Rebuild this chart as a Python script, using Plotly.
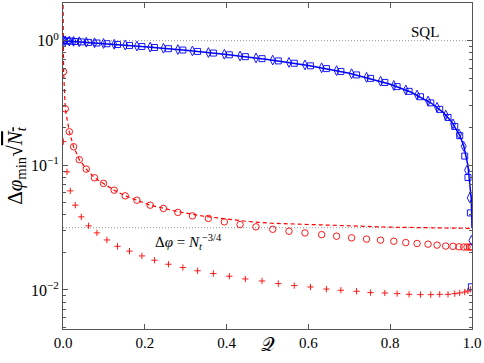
import plotly.graph_objects as go

# ---------------- data ----------------
SQL = 1.0
HEISENBERG = 0.0316

# theory curve (blue solid)
q_line = [0.0, 0.05, 0.1, 0.2, 0.3, 0.4, 0.5, 0.6, 0.7, 0.8, 0.85, 0.9, 0.93, 0.95,
          0.97, 0.98, 0.99, 0.995, 0.998, 0.999, 0.9995, 1.0]
v_line = [1.0, 0.975, 0.949, 0.894, 0.837, 0.775, 0.707, 0.632, 0.548, 0.447, 0.387,
          0.316, 0.265, 0.224, 0.174, 0.142, 0.100, 0.0707, 0.0548, 0.0447, 0.0387, 0.0316]

# red dashed curve
q_dash = [0.0001, 0.0005, 0.0015, 0.0056, 0.0154, 0.0259, 0.040, 0.057, 0.077, 0.099,
          0.125, 0.152, 0.181, 0.213, 0.246, 0.28, 0.35, 0.45, 0.51, 0.67, 0.8, 1.0]
v_dash = [2.2, 1.0, 0.564, 0.284, 0.186, 0.141, 0.111, 0.0932, 0.0794, 0.0716,
          0.0632, 0.0569, 0.0525, 0.0479, 0.0452, 0.0425, 0.0388, 0.0355, 0.0343,
          0.0330, 0.0319, 0.0312]

# grid A: red circles and blue diamonds
q_a = [0.0015, 0.0056, 0.0154, 0.0259, 0.0398, 0.0569, 0.0771, 0.0991, 0.1252, 0.1521,
       0.1807, 0.2131, 0.2456, 0.2808, 0.3164, 0.3555, 0.3945, 0.4329, 0.4719, 0.5127,
       0.5525, 0.5916, 0.6323, 0.6689, 0.7056, 0.7422, 0.7764, 0.8088, 0.8381, 0.8657,
       0.8926, 0.9146, 0.9358, 0.9536, 0.9683, 0.9797, 0.9878, 0.9944, 0.9985]
v_circles = [0.564, 0.284, 0.186, 0.141, 0.111, 0.0932, 0.0794, 0.0716, 0.0632, 0.0569,
             0.0525, 0.0479, 0.0451, 0.0419, 0.0393, 0.0375, 0.0352, 0.0335, 0.0321, 0.0307,
             0.0296, 0.0287, 0.0278, 0.0270, 0.0262, 0.0256, 0.0251, 0.0246, 0.0240, 0.0236,
             0.0233, 0.0229, 0.0225, 0.0224, 0.0222, 0.0221, 0.0221, 0.0221, 0.0221]
v_diamonds = [0.999, 0.997, 0.992, 0.987, 0.980, 0.971, 0.961, 0.949, 0.935, 0.921,
              0.905, 0.887, 0.869, 0.848, 0.827, 0.803, 0.778, 0.753, 0.727, 0.698,
              0.669, 0.639, 0.606, 0.575, 0.543, 0.508, 0.473, 0.437, 0.402, 0.366,
              0.328, 0.292, 0.253, 0.215, 0.178, 0.142, 0.0915, 0.0548, 0.025]

# grid B: red pluses and blue squares
q_b = [0.0008, 0.0098, 0.0178, 0.0300, 0.0447, 0.0625, 0.0830, 0.1074, 0.1333, 0.1626,
       0.1929, 0.2236, 0.2578, 0.2930, 0.3291, 0.3677, 0.4067, 0.4458, 0.4866, 0.5264,
       0.5654, 0.6050, 0.6440, 0.6794, 0.7178, 0.7520, 0.7869, 0.8169, 0.8462, 0.8740,
       0.8992, 0.9211, 0.9414, 0.9578, 0.9700, 0.9822, 0.9902, 0.9961]
v_plus = [0.155, 0.0887, 0.0624, 0.0479, 0.0386, 0.0327, 0.0287, 0.0252, 0.0224, 0.0205,
          0.01876, 0.01733, 0.01608, 0.01513, 0.01426, 0.01355, 0.01289, 0.01226, 0.01181,
          0.01125, 0.01085, 0.01057, 0.01017, 0.00995, 0.00977, 0.00953, 0.00946, 0.00935,
          0.00923, 0.00918, 0.00918, 0.00923, 0.00923, 0.00935, 0.00946, 0.00963, 0.00982,
          0.0101]
q_squares = q_b + [0.9985]
v_squares = [1.0, 0.995, 0.991, 0.985, 0.977, 0.968, 0.958, 0.945, 0.931, 0.915,
             0.898, 0.881, 0.862, 0.841, 0.819, 0.795, 0.770, 0.744, 0.717, 0.688,
             0.659, 0.628, 0.597, 0.566, 0.531, 0.498, 0.462, 0.428, 0.392, 0.355,
             0.317, 0.281, 0.242, 0.205, 0.173, 0.1186, 0.0799, 0.0415, 0.0106]

x_ticks = [0.0, 0.2, 0.4, 0.6, 0.8, 1.0]
x_ticklabels = ["0.0", "0.2", "0.4", "0.6", "0.8", "1.0"]
y_ticks = [1.0, 0.1, 0.01]
y_ticklabels = ["10<sup>0</sup>", "10<sup>−1</sup>", "10<sup>−2</sup>"]

RED = "#ff0000"
BLUE = "#0000ff"
FRAME = "#555555"
FONT = "Liberation Serif, DejaVu Serif, serif"

fig = go.Figure()

# reference lines
fig.add_trace(go.Scatter(x=[0, 1], y=[SQL, SQL], mode="lines",
                         line=dict(color="#888888", width=0.9, dash="1px,2px"),
                         showlegend=False, hoverinfo="skip"))
fig.add_trace(go.Scatter(x=[0, 1], y=[HEISENBERG, HEISENBERG], mode="lines",
                         line=dict(color="#888888", width=0.9, dash="1px,2px"),
                         showlegend=False, hoverinfo="skip"))

fig.add_trace(go.Scatter(x=q_a, y=v_circles, mode="markers",
                         marker=dict(symbol="circle-open", size=6.5, color=RED,
                                     line=dict(width=0.9, color=RED)),
                         showlegend=False))
fig.add_trace(go.Scatter(x=q_b, y=v_plus, mode="markers",
                         marker=dict(symbol="cross-thin-open", size=4.5, color=RED,
                                     line=dict(width=0.9, color=RED)),
                         showlegend=False))
fig.add_trace(go.Scatter(x=q_dash, y=v_dash, mode="lines",
                         line=dict(color=RED, width=1.2, dash="4px,3px"),
                         showlegend=False))

fig.add_trace(go.Scatter(x=q_squares, y=v_squares, mode="markers",
                         marker=dict(symbol="square-open", size=6, color=BLUE,
                                     line=dict(width=0.9, color=BLUE)),
                         showlegend=False))
fig.add_trace(go.Scatter(x=q_a, y=v_diamonds, mode="markers",
                         marker=dict(symbol="diamond-tall-open", size=7, color=BLUE,
                                     line=dict(width=0.9, color=BLUE)),
                         showlegend=False))
fig.add_trace(go.Scatter(x=q_line, y=v_line, mode="lines",
                         line=dict(color=BLUE, width=1.5),
                         showlegend=False))

fig.add_annotation(x=0.886, y=0.072, xref="x", yref="y", text="SQL", showarrow=False,
                   font=dict(family=FONT, size=15, color="black"))
fig.add_annotation(x=0.306, y=-1.613, xref="x", yref="y",
                   text="Δ<i>φ</i> = <i>N</i><sub><i>t</i></sub><sup>−3/4</sup>",
                   showarrow=False, font=dict(family=FONT, size=15, color="black"))
# x-axis title
fig.add_annotation(x=0.5, y=-0.047, xref="paper", yref="paper", text="𝒬",
                   showarrow=False, xanchor="center", yanchor="middle",
                   font=dict(family=FONT, size=19, color="black"))

fig.update_layout(
    width=484, height=363,
    margin=dict(l=63, r=12, t=3, b=34),
    paper_bgcolor="white", plot_bgcolor="white",
    font=dict(family=FONT, color="black"),
    showlegend=False,
)
fig.update_xaxes(
    range=[0, 1], tickvals=x_ticks, ticktext=x_ticklabels,
    ticks="inside", ticklen=5, tickcolor=FRAME, tickwidth=1,
    showline=True, linecolor=FRAME, linewidth=1, mirror="ticks",
    showgrid=False, zeroline=False,
    tickfont=dict(family=FONT, size=15),
)
fig.update_yaxes(
    type="log", range=[-2.313, 0.302], tickvals=y_ticks, ticktext=y_ticklabels,
    ticks="inside", ticklen=5, tickcolor=FRAME, tickwidth=1,
    minor=dict(ticks="inside", ticklen=3, tickcolor=FRAME, dtick="D1", showgrid=False),
    showline=True, linecolor=FRAME, linewidth=1, mirror="ticks",
    showgrid=False, zeroline=False,
    tickfont=dict(family=FONT, size=16),
    title=dict(text="Δ<i>φ</i><sub>min</sub>√<span style='text-decoration:overline'><i>N</i><sub><i>t</i></sub></span>",
               font=dict(family=FONT, size=21), standoff=2),
)

fig.write_html("out.html", config={"displayModeBar": False},
               post_script="document.body.style.margin='0';")
